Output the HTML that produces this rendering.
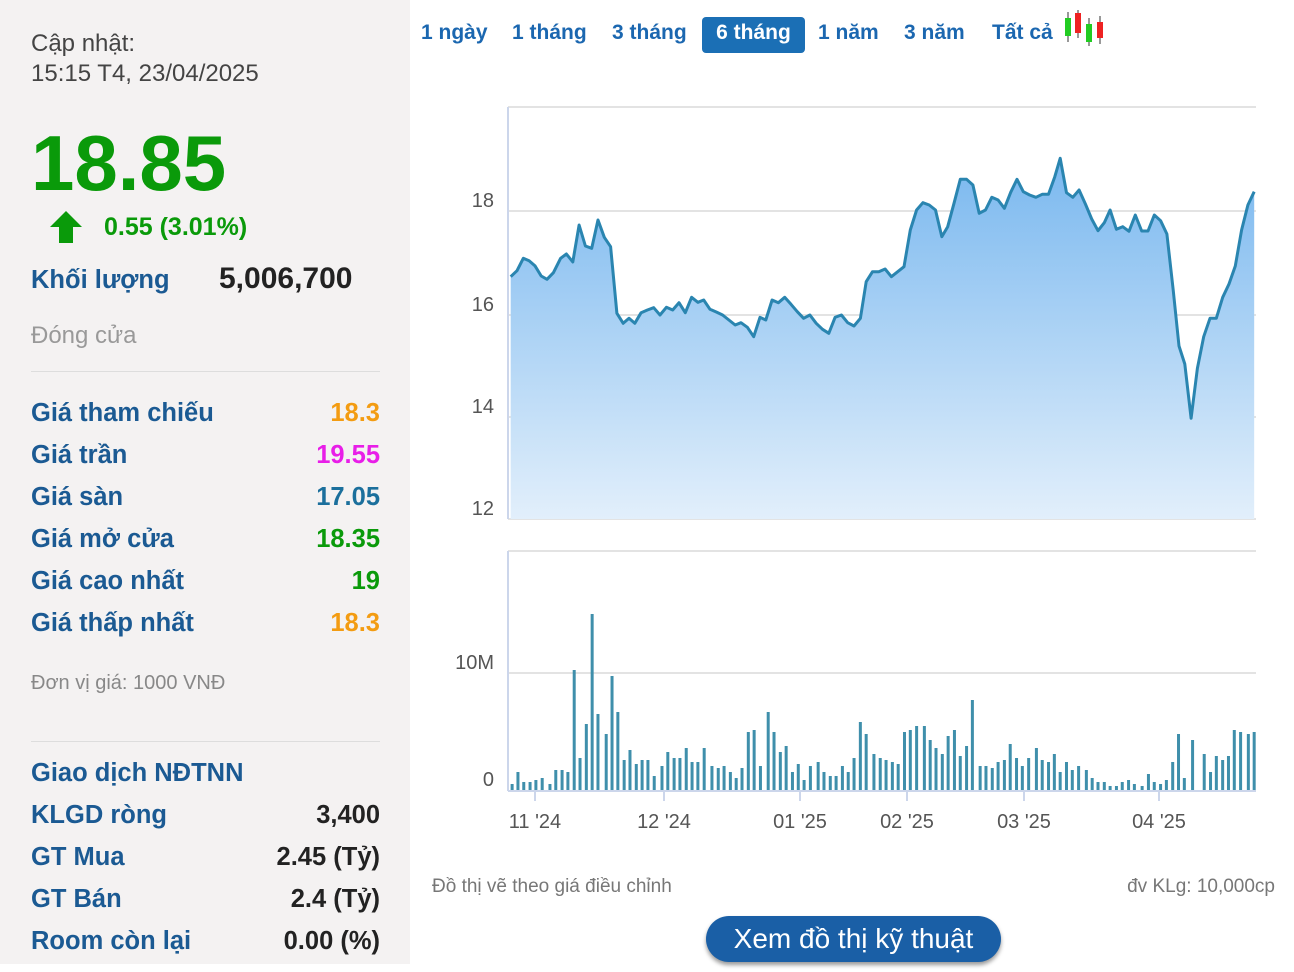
<!DOCTYPE html>
<html><head><meta charset="utf-8"><style>
body{margin:0;width:1294px;height:972px;background:#fff;font-family:"Liberation Sans",sans-serif;position:relative;overflow:hidden}
.l{position:absolute;left:0;top:0;width:410px;height:964px;background:#f4f2f2}
.t{position:absolute;white-space:nowrap}
.b{color:#1b5a93;font-weight:bold;font-size:25.5px}
.r{position:absolute;right:30px;font-weight:bold;font-size:25.5px;text-align:right}
.tab{position:absolute;top:17px;height:36px;line-height:32px;font-size:21px;font-weight:bold;color:#1b67b0}
</style></head><body>
<div class="l">
<div class="t" style="left:31px;top:30px;font-size:24px;color:#444">Cập nhật:</div>
<div class="t" style="left:31px;top:60px;font-size:24px;color:#444">15:15 T4, 23/04/2025</div>
<div class="t" style="left:31px;top:118px;font-size:78px;font-weight:bold;color:#0a9a0a">18.85</div>
<svg class="t" style="left:48px;top:209px" width="36" height="36"><polygon points="18,2 34,18 25,18 25,34 11,34 11,18 2,18" fill="#0a9a0a"/></svg>
<div class="t" style="left:104px;top:213px;font-size:25px;font-weight:bold;color:#0a9a0a">0.55 (3.01%)</div>
<div class="t b" style="left:31px;top:266px">Khối lượng</div>
<div class="t" style="left:219px;top:262px;font-size:30px;font-weight:bold;color:#222">5,006,700</div>
<div class="t" style="left:31px;top:322px;font-size:24px;color:#999">Đóng cửa</div>
<div style="position:absolute;left:31px;top:371px;width:349px;border-top:1px solid #ddd"></div>
<div class="t b" style="left:31px;top:399px">Giá tham chiếu</div><div class="r" style="top:399px;color:#f39c12">18.3</div>
<div class="t b" style="left:31px;top:441px">Giá trần</div><div class="r" style="top:441px;color:#e81ee8">19.55</div>
<div class="t b" style="left:31px;top:483px">Giá sàn</div><div class="r" style="top:483px;color:#1b6f9c">17.05</div>
<div class="t b" style="left:31px;top:525px">Giá mở cửa</div><div class="r" style="top:525px;color:#0a9a0a">18.35</div>
<div class="t b" style="left:31px;top:567px">Giá cao nhất</div><div class="r" style="top:567px;color:#0a9a0a">19</div>
<div class="t b" style="left:31px;top:609px">Giá thấp nhất</div><div class="r" style="top:609px;color:#f39c12">18.3</div>
<div class="t" style="left:31px;top:672px;font-size:20px;color:#888">Đơn vị giá: 1000 VNĐ</div>
<div style="position:absolute;left:31px;top:741px;width:349px;border-top:1px solid #ddd"></div>
<div class="t b" style="left:31px;top:759px">Giao dịch NĐTNN</div>
<div class="t b" style="left:31px;top:801px">KLGD ròng</div><div class="r" style="top:801px;color:#222">3,400</div>
<div class="t b" style="left:31px;top:843px">GT Mua</div><div class="r" style="top:843px;color:#222">2.45 (Tỷ)</div>
<div class="t b" style="left:31px;top:885px">GT Bán</div><div class="r" style="top:885px;color:#222">2.4 (Tỷ)</div>
<div class="t b" style="left:31px;top:927px">Room còn lại</div><div class="r" style="top:927px;color:#222">0.00 (%)</div>
</div>
<div class="tab" style="left:421px">1 ngày</div>
<div class="tab" style="left:512px">1 tháng</div>
<div class="tab" style="left:612px">3 tháng</div>
<div class="tab" style="left:702px;width:103px;background:#1b6fb5;color:#fff;border-radius:4px;text-align:center">6 tháng</div>
<div class="tab" style="left:818px">1 năm</div>
<div class="tab" style="left:904px">3 năm</div>
<div class="tab" style="left:992px">Tất cả</div>
<svg class="t" style="left:1062px;top:8px" width="44" height="40">
<line x1="6" y1="4" x2="6" y2="34" stroke="#333"/><rect x="3" y="10" width="6" height="18" fill="#2c2"/>
<line x1="16" y1="2" x2="16" y2="30" stroke="#333"/><rect x="13" y="5" width="6" height="20" fill="#e22"/>
<line x1="27" y1="10" x2="27" y2="38" stroke="#333"/><rect x="24" y="16" width="6" height="18" fill="#2c2"/>
<line x1="38" y1="8" x2="38" y2="36" stroke="#333"/><rect x="35" y="14" width="6" height="16" fill="#e22"/>
</svg>
<svg id="c" class="t" style="left:0;top:0" width="1294" height="972">
<defs><linearGradient id="g" x1="0" y1="0" x2="0" y2="1"><stop offset="0" stop-color="#7ab8ef"/><stop offset="1" stop-color="#e2effb"/></linearGradient></defs>
<g stroke="#e3e3e3" stroke-width="2"><line x1="508" y1="107" x2="1256" y2="107"/><line x1="508" y1="211" x2="1256" y2="211"/><line x1="508" y1="315" x2="1256" y2="315"/><line x1="508" y1="417" x2="1256" y2="417"/><line x1="508" y1="519" x2="1256" y2="519"/>
<line x1="508" y1="551" x2="1256" y2="551"/><line x1="508" y1="673" x2="1256" y2="673"/></g>
<line x1="508" y1="107" x2="508" y2="519" stroke="#ccd6eb" stroke-width="2"/>
<line x1="508" y1="551" x2="508" y2="791" stroke="#ccd6eb" stroke-width="2"/>
<line x1="508" y1="791" x2="1256" y2="791" stroke="#ccd6eb" stroke-width="2"/>
<g fill="#555" font-size="20" text-anchor="end"><text x="494" y="207">18</text><text x="494" y="311">16</text><text x="494" y="413">14</text><text x="494" y="515">12</text><text x="494" y="669">10M</text><text x="494" y="786">0</text></g>
<g stroke="#ccd6eb" stroke-width="2"><line x1="535" y1="791" x2="535" y2="801"/><line x1="664" y1="791" x2="664" y2="801"/><line x1="800" y1="791" x2="800" y2="801"/><line x1="907" y1="791" x2="907" y2="801"/><line x1="1024" y1="791" x2="1024" y2="801"/><line x1="1159" y1="791" x2="1159" y2="801"/></g>
<g fill="#555" font-size="20" text-anchor="middle"><text x="535" y="828">11 '24</text><text x="664" y="828">12 '24</text><text x="800" y="828">01 '25</text><text x="907" y="828">02 '25</text><text x="1024" y="828">03 '25</text><text x="1159" y="828">04 '25</text></g>
<g id="pl"></g><g id="vb" fill="#3f8fab"></g>
<text x="432" y="892" font-size="19" fill="#777">Đồ thị vẽ theo giá điều chỉnh</text>
<text x="1275" y="892" font-size="19" fill="#777" text-anchor="end">đv KLg: 10,000cp</text>
</svg>
<div class="t" style="left:706px;top:916px;width:295px;height:46px;border-radius:23px;background:#1a5fa6;color:#fff;font-size:28px;line-height:46px;text-align:center;box-shadow:0 3px 4px #999">Xem đồ thị kỹ thuật</div>
<script>
var K=0.485;
var p=[22,410,35,392,48,355,60,362,72,377,85,408,97,418,110,398,125,355,137,342,150,366,163,255,176,318,189,325,202,240,215,292,228,320,241,520,254,550,266,535,278,550,291,518,304,510,317,503,330,525,343,502,356,510,369,488,382,518,395,472,408,487,420,480,433,508,446,516,459,525,472,540,485,555,497,548,510,562,523,590,536,532,548,540,561,480,574,488,587,472,600,493,613,515,626,535,639,525,652,550,665,568,678,580,691,532,704,525,717,548,730,558,743,535,755,425,768,395,781,395,794,387,807,410,820,395,833,380,846,270,859,210,872,188,885,195,898,210,911,290,923,260,936,190,949,118,962,118,975,135,988,220,1001,210,1014,172,1027,180,1040,205,1053,157,1066,118,1079,155,1092,165,1105,172,1118,163,1131,163,1144,110,1155,55,1168,158,1181,172,1194,150,1207,192,1220,237,1233,272,1246,248,1258,210,1271,268,1284,260,1297,274,1310,225,1323,273,1336,273,1349,225,1362,242,1375,282,1388,450,1400,618,1412,672,1425,835,1438,685,1451,590,1464,535,1477,535,1490,472,1503,432,1516,378,1529,270,1542,195,1555,155];
var pts=[];for(var i=0;i<p.length;i+=2)pts.push((p[i]*K+500).toFixed(1)+","+(p[i+1]/3+140).toFixed(1));
var line=pts.join(" ");
var ns="http://www.w3.org/2000/svg",pl=document.getElementById("pl");
var a=document.createElementNS(ns,"polygon");a.setAttribute("points",line+" "+(p[p.length-2]*K+500)+",519 "+(p[0]*K+500)+",519");a.setAttribute("fill","url(#g)");pl.appendChild(a);
var l=document.createElementNS(ns,"polyline");l.setAttribute("points",line);l.setAttribute("fill","none");l.setAttribute("stroke","#2a85b0");l.setAttribute("stroke-width","3");l.setAttribute("stroke-linejoin","round");pl.appendChild(l);
var v=[25,552,37,516,49,546,62,546,74,540,87,534,103,552,115,510,128,510,140,516,153,210,165,474,178,372,190,42,202,342,219,402,231,228,243,336,256,480,268,450,281,492,293,480,305,480,318,528,334,498,346,456,359,474,371,474,384,444,396,486,408,486,421,444,437,498,450,504,462,498,475,516,487,534,499,504,512,396,524,390,537,498,553,336,565,396,578,456,590,438,603,516,615,492,627,540,640,498,656,486,668,516,681,528,693,528,706,498,718,516,730,474,743,366,755,402,771,462,784,474,796,480,809,486,821,492,834,396,846,390,859,378,875,378,887,420,899,444,912,462,924,408,937,390,949,468,962,438,974,300,990,498,1002,498,1015,504,1027,486,1040,480,1052,432,1065,474,1077,498,1090,474,1106,444,1118,480,1131,486,1143,462,1155,516,1168,486,1180,510,1193,498,1209,510,1221,534,1233,546,1246,546,1258,558,1271,558,1283,546,1296,540,1308,552,1324,558,1337,522,1349,546,1362,552,1374,540,1387,486,1399,402,1411,534,1428,420,1452,462,1465,516,1477,468,1490,480,1502,468,1514,390,1527,396,1543,402,1555,396];
var vb=document.getElementById("vb");
for(var i=0;i<v.length;i+=2){var r=document.createElementNS(ns,"rect");var x=v[i]*K+500-1.5,y=v[i+1]/3+600;r.setAttribute("x",x);r.setAttribute("y",y);r.setAttribute("width",3);r.setAttribute("height",790-y);vb.appendChild(r);}
</script>
</body></html>
